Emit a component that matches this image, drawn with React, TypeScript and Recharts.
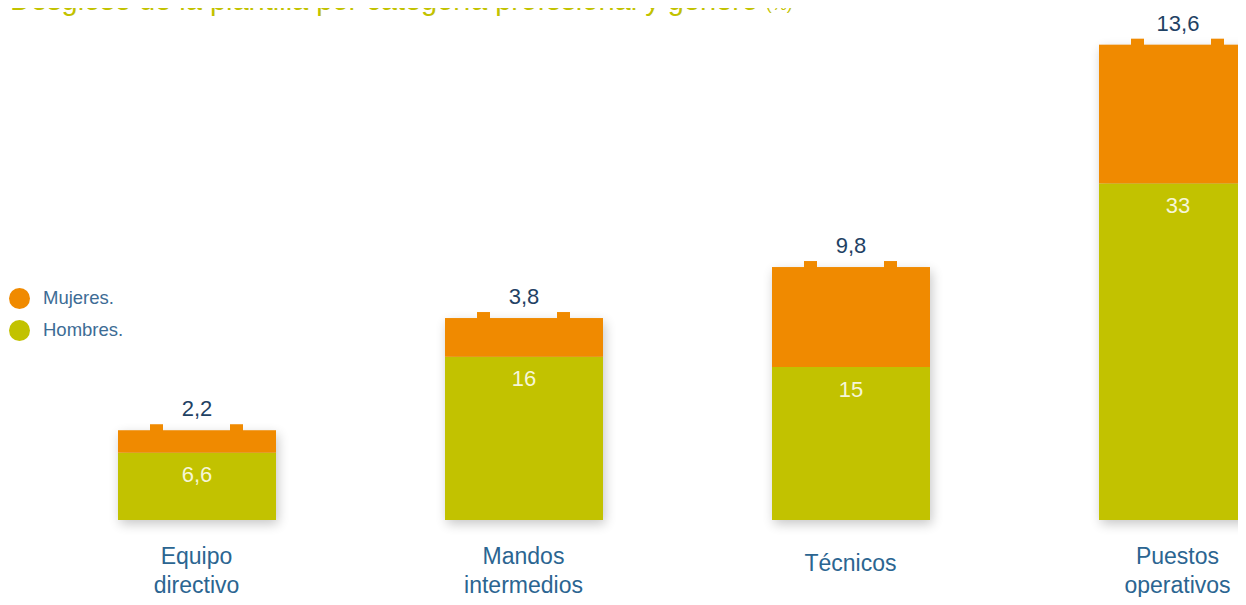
import { BarChart, Bar, XAxis, YAxis, LabelList } from "recharts";

const categories = ["Equipo directivo", "Mandos intermedios", "Técnicos", "Puestos operativos"];
const tickLines = [["Equipo", "directivo"], ["Mandos", "intermedios"], ["Técnicos"], ["Puestos", "operativos"]];
const hombres = [6.6, 16, 15, 33];
const mujeres = [2.2, 3.8, 9.8, 13.6];

const data = categories.map((name, i) => ({
  name,
  hombres: hombres[i],
  mujeres: mujeres[i],
}));

const ORANGE = "#f08a00";
const GREEN = "#c2c200";
const FONT = "'Liberation Sans', Arial, sans-serif";

const fmt = (v: any) => String(v).replace(".", ",");

// green part draws the shadow for the whole stack first
const HombresShape = (props: any) => {
  const { x, y, width, height, payload } = props;
  const topExtra = (height * payload.mujeres) / payload.hombres;
  return (
    <g>
      <defs>
        <filter id="shadow" x="-20%" y="-20%" width="140%" height="140%">
          <feGaussianBlur stdDeviation="6" />
        </filter>
      </defs>
      <rect
        x={x + 2}
        y={y - topExtra + 4}
        width={width}
        height={height + topExtra}
        fill="#000"
        opacity={0.22}
        filter="url(#shadow)"
      />
      <rect x={x} y={y} width={width} height={height} fill={GREEN} />
    </g>
  );
};

const MujeresShape = (props: any) => {
  const { x, y, width, height } = props;
  const tabW = 13;
  const tabH = 6;
  return (
    <g>
      <rect x={x} y={y} width={width} height={height} fill={ORANGE} />
      <rect x={x + 32} y={y - tabH} width={tabW} height={tabH + 1} fill={ORANGE} />
      <rect x={x + width - 46} y={y - tabH} width={tabW} height={tabH + 1} fill={ORANGE} />
    </g>
  );
};

const CategoryTick = (props: any) => {
  const { x, y, payload, index } = props;
  const lines = tickLines[index] || [payload.value];
  const startY = lines.length === 1 ? y + 43 : y + 36;
  return (
    <text x={x} y={startY} textAnchor="middle" fill="#2b6591" fontSize={23} fontFamily={FONT}>
      {lines.map((l: string, i: number) => (
        <tspan key={l} x={x} dy={i === 0 ? 0 : 29}>
          {l}
        </tspan>
      ))}
    </text>
  );
};

const legendItems = [
  { label: "Mujeres.", color: ORANGE },
  { label: "Hombres.", color: GREEN },
];

export default function App() {
  return (
    <div
      style={{
        position: "relative",
        margin: -8,
        width: 1246,
        height: 605,
        overflow: "hidden",
        background: "#fff",
      }}
    >
      <div
        style={{
          position: "absolute",
          left: 10,
          top: -17,
          fontFamily: FONT,
          fontSize: 29,
          lineHeight: "34px",
          color: GREEN,
          whiteSpace: "nowrap",
        }}
      >
        Desglose de la plantilla por categoría profesional y género{" "}
        <span style={{ fontSize: 17 }}>(%)</span>
      </div>
      <div style={{ position: "absolute", left: 0, top: 282, fontFamily: FONT }}>
        {legendItems.map((it) => (
          <div key={it.label} style={{ display: "flex", alignItems: "center", height: 32 }}>
            <span
              style={{
                width: 21,
                height: 21,
                borderRadius: "50%",
                background: it.color,
                display: "inline-block",
                marginLeft: 9,
                marginRight: 13,
              }}
            />
            <span style={{ color: "#3d6c95", fontSize: 18.5 }}>{it.label}</span>
          </div>
        ))}
      </div>
      <BarChart
        width={1341}
        height={605}
        data={data}
        margin={{ top: 10, right: 0, bottom: 55, left: 33 }}
        barSize={158}
        style={{ position: "absolute", left: 0, top: 0 }}
      >
        <XAxis
          dataKey="name"
          axisLine={false}
          tickLine={false}
          tick={<CategoryTick />}
          interval={0}
        />
        <YAxis hide domain={[0, 50]} />
        <Bar dataKey="hombres" stackId="a" shape={<HombresShape />} isAnimationActive={false}>
          <LabelList
            dataKey="hombres"
            position="insideTop"
            offset={14}
            formatter={fmt}
            fill="#f6f6d8"
            fontSize={22}
            fontFamily={FONT}
          />
        </Bar>
        <Bar dataKey="mujeres" stackId="a" shape={<MujeresShape />} isAnimationActive={false}>
          <LabelList
            dataKey="mujeres"
            position="top"
            offset={14}
            formatter={fmt}
            fill="#1f4264"
            fontSize={22}
            fontFamily={FONT}
          />
        </Bar>
      </BarChart>
    </div>
  );
}
